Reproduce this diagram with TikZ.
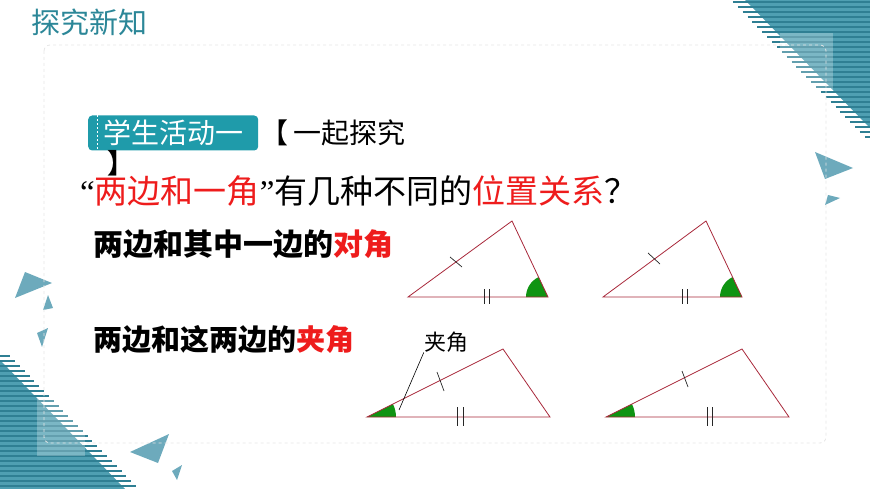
\documentclass[tikz,border=0pt]{standalone}
\usepackage{fontspec}
\newfontfamily\cjk{Noto Sans CJK SC}
\newfontfamily\quotefont{Liberation Serif}
\usetikzlibrary{positioning}
\definecolor{edgered}{HTML}{A8283A}
\definecolor{anglegreen}{HTML}{0F9412}
\definecolor{hired}{HTML}{EE1C1C}
\definecolor{titleteal}{HTML}{2C8798}
\definecolor{boxteal}{HTML}{1F9BAA}
\definecolor{decoteal}{HTML}{4F9FB2}
\definecolor{stripeteal}{HTML}{2F7F93}
\definecolor{chipteal}{HTML}{6DAABC}
\tikzset{
  tri/.style={draw=edgered, line width=0.8pt},
  tickmark/.style={draw=black!85, line width=0.7pt},
  sector/.style={fill=anglegreen},
  stripe/.style={draw=stripeteal, line width=1.6pt},
  chip/.style={fill=chipteal},
  txt/.style={inner sep=0pt, anchor=west},
  framedash/.style={draw=black!10, line width=0.8pt, dash pattern=on 3pt off 3pt, rounded corners=6pt},
}
\newcommand\cjksize[1]{\cjk\fontsize{#1}{#1}\selectfont}
\newcommand\openq{{\quotefont“}}
\newcommand\closeq{{\quotefont”}}

\begin{document}
\begin{tikzpicture}[x=1pt, y=-1pt]
\useasboundingbox (0,0) rectangle (870,489);
% corner pieces
\fill[decoteal] (745,0) -- (870,0) -- (870,128) -- cycle;
\foreach \y in {2,7,...,137}
  \draw[stripe] ({745+\y/128*125-14},\y) -- (870,\y);
\fill[white, opacity=.25] (780,33) rectangle (833,90);
\fill[decoteal] (0,360) -- (125,489) -- (0,489) -- cycle;
\foreach \y in {356,361,...,486}
  \draw[stripe] (0,\y) -- ({(\y-360)/129*125+14},\y);
\fill[white, opacity=.25] (37,398) rectangle (85,456);
% small flying triangles
\fill[chip] (25,272) -- (52,283) -- (15,298) -- cycle;
\fill[chip] (48,295) -- (53,308) -- (43,310) -- cycle;
\fill[chip] (37,333) -- (48,328) -- (42,347) -- cycle;
\fill[chip] (130,452) -- (169,434) -- (158,463) -- cycle;
\fill[chip] (172,471) -- (182,465) -- (177,480) -- cycle;
\fill[chip] (815,152) -- (853,168) -- (825,179) -- cycle;
\fill[chip] (828,195) -- (840,198) -- (825,205) -- cycle;
\draw[framedash] (44,45) rectangle (826,443);

% headings
\node[txt, text=titleteal, font=\cjksize{29}] (title) at (31,22) {探究新知};
\node[anchor=west, fill=boxteal, rounded corners=4pt, text=white, inner xsep=15pt,
  inner ysep=0pt, minimum height=35pt, font=\cjksize{28}] (act) at (88,133) {学生活动一};
\draw[white, line width=0.6pt, dash pattern=on 2pt off 2pt]
  ([xshift=9pt]act.north west) -- ([xshift=9pt]act.south west);
\node[txt, font=\cjksize{28}] (topic) at (260,133) {【\kern5pt 一起探究};
\node[inner sep=0pt, font=\cjksize{27}\bfseries] (close) at (121,163) {】};
\node[txt, font=\cjksize{33}] (question) at (80,191)
  {\openq\textcolor{hired}{两边和一角}\closeq 有几种不同的\textcolor{hired}{位置关系}？};
\node[txt, font=\cjksize{30}\bfseries] (case1) at (93,244) {两边和其中一边的\textcolor{hired}{对角}};
\node[txt, font=\cjksize{29}\bfseries] (case2) at (93,340) {两边和这两边的\textcolor{hired}{夹角}};

% angle opposite one side
\coordinate (a1) at (408,297); \coordinate (b1) at (512,221); \coordinate (c1) at (548,297);
\fill[sector] (c1) -- ++(180:22) arc[start angle=180, end angle=244.65, radius=22] -- cycle;
\draw[tri] (a1) -- (b1) -- (c1) -- cycle;
\draw[tickmark] (450,257) -- (462,267);
\draw[tickmark] (484,289) -- (484,304);
\draw[tickmark] (489,289) -- (489,304);

\coordinate (a2) at (603,297); \coordinate (b2) at (706,221); \coordinate (c2) at (742,297);
\fill[sector] (c2) -- ++(180:22) arc[start angle=180, end angle=244.65, radius=22] -- cycle;
\draw[tri] (a2) -- (b2) -- (c2) -- cycle;
\draw[tickmark] (648,253) -- (660,264);
\draw[tickmark] (682,289) -- (682,304);
\draw[tickmark] (687,289) -- (687,304);

% included angle
\coordinate (a3) at (367,417); \coordinate (b3) at (503,349); \coordinate (c3) at (550,417);
\fill[sector] (a3) -- ++(0:29) arc[start angle=0, end angle=-26.57, radius=29] -- cycle;
\draw[tri] (a3) -- (b3) -- (c3) -- cycle;
\draw[tickmark] (437,372) -- (444,391);
\draw[tickmark] (457,407) -- (457,426);
\draw[tickmark] (463,407) -- (463,426);

\coordinate (a4) at (606,417); \coordinate (b4) at (742,349); \coordinate (c4) at (789,417);
\fill[sector] (a4) -- ++(0:29) arc[start angle=0, end angle=-26.57, radius=29] -- cycle;
\draw[tri] (a4) -- (b4) -- (c4) -- cycle;
\draw[tickmark] (682,371) -- (688,387);
\draw[tickmark] (707,407) -- (707,426);
\draw[tickmark] (712,407) -- (712,426);

\node[inner sep=0pt, font=\cjksize{22}] (jiajiao) at (446,342) {夹角};
\coordinate (inside) at (399,410);
\draw[line width=0.6pt] (jiajiao.south west) -- (inside);
\end{tikzpicture}
\end{document}
